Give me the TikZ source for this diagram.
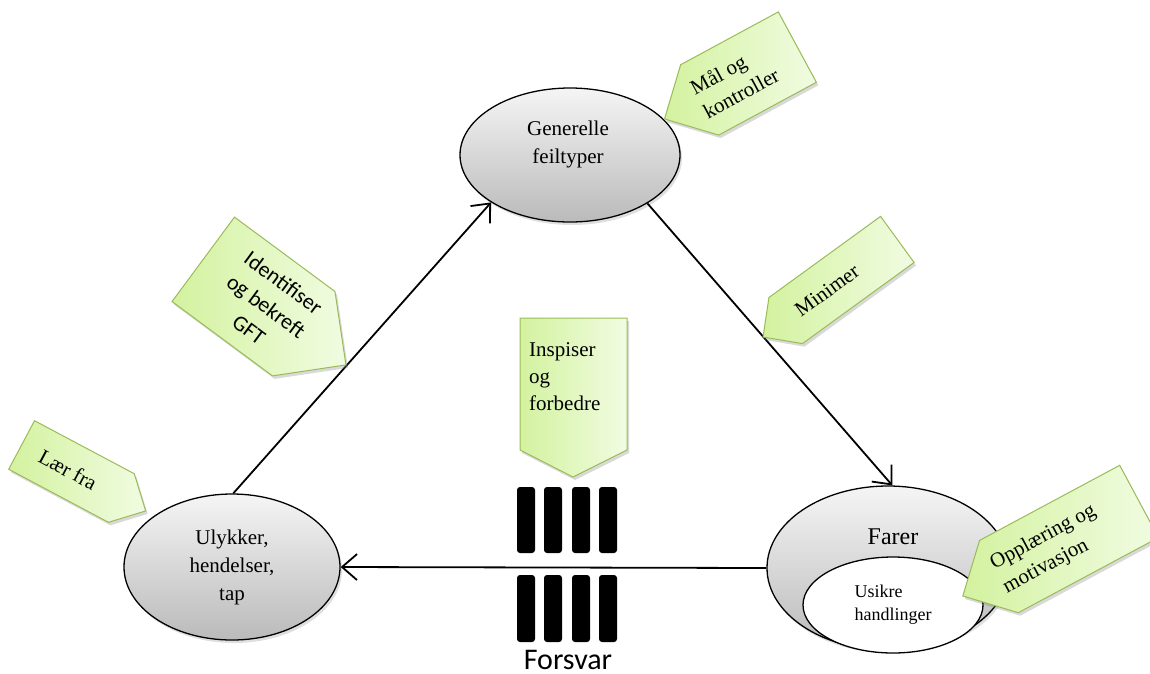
\documentclass[tikz,border=0pt]{standalone}
\usepackage{fontspec}
\setmainfont{Liberation Serif}
\newfontfamily\calibrifont{Carlito}
\usetikzlibrary{arrows.meta,shapes.geometric,shadows}

\definecolor{pennantline}{HTML}{9BBB59}
\definecolor{pennantdark}{HTML}{D3F29F}
\definecolor{pennantlight}{HTML}{F1FCE2}

\tikzset{
  oval/.style={ellipse, draw=black, line width=1.3pt, inner sep=0pt,
    top color=black!4, bottom color=black!27,
    drop shadow={opacity=0.25, shadow xshift=2pt, shadow yshift=-3pt},
    align=center, font=\fontsize{21}{28}\selectfont},
  flow/.style={line width=1.8pt, -{Straight Barb[length=15pt,width=26pt]}},
  pennant/.style={draw=pennantline, line width=1pt, line join=miter,
    left color=pennantdark, right color=pennantlight,
    drop shadow={opacity=0.3, shadow xshift=2pt, shadow yshift=-3pt}},
  tag/.style={font=\fontsize{21}{27}\selectfont, inner sep=0pt},
  bar/.style={fill=black, rounded corners=3pt},
}

\begin{document}
\begin{tikzpicture}[x=1pt, y=-1pt]
\useasboundingbox (0,0) rectangle (1150,673);

% the three stages of the cycle
\node[oval, minimum width=220pt, minimum height=134pt] (g) at (570,155) {};
\node[font=\fontsize{21}{28}\selectfont, align=center, inner sep=0pt] (gt) at (568,144) {Generelle\\feiltyper};

\node[oval, minimum width=216pt, minimum height=146pt] (u) at (232,567) {Ulykker,\\hendelser,\\tap};

\node[oval, minimum width=242pt, minimum height=164pt] (f) at (888,568) {};
\node[font=\fontsize{24}{28}\selectfont, inner sep=0pt] (ft) at (893,537) {Farer};
\node[ellipse, draw=black, line width=1.3pt, fill=white, inner sep=0pt,
      minimum width=180pt, minimum height=96pt, align=left,
      font=\fontsize{18}{23}\selectfont] (uh) at (893,605) {Usikre\\handlinger};

% connectors
\draw[flow] (u.89) -- (g.211);
\draw[flow] (g.-32.7) -- (f.87);
\draw[flow] (f.west) -- (u.east);

% defence barriers
\foreach \i/\x in {1/517,2/544,3/572,4/599}{
  \path[bar] (\x,487) rectangle ++(18,66);
  \path[bar] (\x,575) rectangle ++(18,67);
}
\node[font=\calibrifont\fontsize{30}{34}\selectfont, anchor=base, inner sep=0pt] (fv) at (568,669) {Forsvar};

% pennant: Inspiser og forbedre
\draw[pennant] (520,318) -- (627,318) -- (627,450) -- (573,477) -- (520,450) -- cycle;
\node[tag, align=left, anchor=north west] (insp) at (529,342) {Inspiser\\og\\forbedre};

% pennant: Maal og kontroller
\begin{scope}[shift={(748.5,73.5)}, rotate=28.4, transform shape]
  \draw[pennant] (-95.5,0) -- (-55.5,-40) -- (55.5,-40) -- (55.5,40) -- (-55.5,40) -- cycle;
  \node[tag, align=left] (mal) at (-16,0) {Mål og\\kontroller};
\end{scope}

% pennant: Minimer
\begin{scope}[shift={(841.5,280)}, rotate=36, transform shape]
  \draw[pennant] (-97,0) -- (-69,-28.5) -- (69,-28.5) -- (69,28.5) -- (-69,28.5) -- cycle;
  \node[tag] (min) at (-18,0) {Minimer};
\end{scope}

% pennant: Opplaering og motivasjon
\begin{scope}[shift={(1069,539)}, rotate=28.2, transform shape]
  \draw[pennant] (-120.5,0) -- (-79.5,-41) -- (79.5,-41) -- (79.5,41) -- (-79.5,41) -- cycle;
  \node[tag, align=left] (opp) at (-22,0) {Opplæring og\\motivasjon};
\end{scope}

% pennant: Identifiser og bekreft GFT
\begin{scope}[shift={(253.5,296.5)}, rotate=-36.5, transform shape]
  \draw[pennant] (-62.5,-52.5) -- (62.5,-52.5) -- (115,0) -- (62.5,52.5) -- (-62.5,52.5) -- cycle;
  \node[tag, align=center, font=\calibrifont\fontsize{22}{29}\selectfont] (idf) at (16,0) {Identifiser\\og bekreft\\GFT};
\end{scope}

% pennant: Laer fra
\begin{scope}[shift={(71.5,471.5)}, rotate=-28, transform shape]
  \draw[pennant] (-56.5,-27.5) -- (56.5,-27.5) -- (84,0) -- (56.5,27.5) -- (-56.5,27.5) -- cycle;
  \node[tag] (lf) at (-4,0) {Lær fra};
\end{scope}
\end{tikzpicture}
\end{document}
